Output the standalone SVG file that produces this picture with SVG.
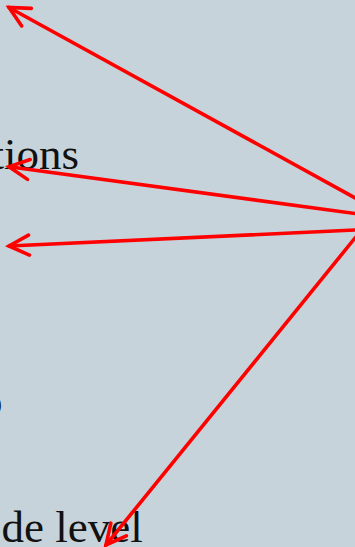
<svg xmlns="http://www.w3.org/2000/svg" width="355" height="547" viewBox="0 0 355 547">
<defs>
<style>
.t{font-family:"Liberation Serif","Times New Roman",serif;font-size:45px;fill:#111}
.a{fill:none;stroke:#ff0000;stroke-width:3.6;stroke-linecap:round}
</style>
<marker id="h" viewBox="-26 -16 30 32" refX="0" refY="0" markerWidth="30" markerHeight="32" markerUnits="userSpaceOnUse" orient="auto">
<path d="M-20,-10 L0,0 L-20,10" fill="none" stroke="#ff0000" stroke-width="3.6" stroke-linecap="round" stroke-linejoin="miter"/>
</marker>
</defs>
<rect width="355" height="547" fill="#c7d3da"/>
<g id="labels">
<text class="t" x="79" y="169" text-anchor="end">tions</text>
<text class="t" x="-20" y="416">o</text>
<text class="t" x="1.5" y="542">de level</text>
</g>
<g id="connectors">
<line class="a" x1="400" y1="222.6" x2="9" y2="7.5" marker-end="url(#h)"/>
<line class="a" x1="400" y1="219.6" x2="9" y2="166.8" marker-end="url(#h)"/>
<line class="a" x1="400" y1="228" x2="9" y2="246" marker-end="url(#h)"/>
<line class="a" x1="370" y1="219.5" x2="106" y2="545" marker-end="url(#h)"/>
</g>
</svg>
